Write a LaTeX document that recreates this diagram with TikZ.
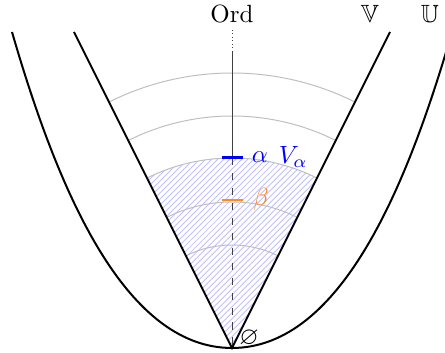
\documentclass[tikz,border=0pt]{standalone}
\usepackage{amsmath,amssymb}
\usepackage{xcolor}
\definecolor{azulOrd}{HTML}{0000FF}
\definecolor{naranjaOrd}{HTML}{FF8C1A}
\usepackage{tikz}
\usetikzlibrary{patterns.meta}

\begin{document}
\begin{tikzpicture}[x=0.141mm,y=0.141mm,font=\normalsize]

\useasboundingbox (0,0) rectangle (445,353);
\clip (0,0) rectangle (445,353);

\coordinate (O) at (232,5);

% Sector rayado
\fill[pattern={Lines[angle=45,distance=1.7pt,line width=0.35pt]},pattern color=azulOrd!25]
    (O) -- ++(63.43:190) arc[start angle=63.43,end angle=116.57,radius=190] -- cycle;

% Arcos
\foreach \r in {103,146,190,232,275}
    \draw[gray!50,thin] (O) ++(63.43:\r) arc[start angle=63.43,end angle=116.57,radius=\r];

% Eje
\draw[black!75,densely dotted] (232,323) -- (232,302);
\draw[black!75] (232,302) -- (232,195);
\draw[black!75,dashed] (232,195) -- (O);

% Cono V
\draw[thick] (74,321) -- (O) -- (390,321);

% Curva U
\draw[thick]
    (12,321)
    .. controls (55.5,171) and (122,5) ..
    (O)
    .. controls (342,5) and (408.5,171) ..
    (452,321);

% Marcas
\draw[azulOrd,very thick] (222,195) -- (243,195);
\draw[naranjaOrd,semithick] (222,153) -- (243,153);

% Etiquetas
\node (ord) at (232,339) {Ord};
\node (vv) at (370,339) {$\mathbb{V}$};
\node (uu) at (430,339) {$\mathbb{U}$};
\node[text=azulOrd] (alfa) at (260,196) {$\alpha$};
\node[text=azulOrd,anchor=west] (valfa) at (270,196) {$V_\alpha$};
\node[text=naranjaOrd] (beta) at (261,154) {$\beta$};
\node (vacio) at (249,15) {$\varnothing$};

\end{tikzpicture}
\end{document}
